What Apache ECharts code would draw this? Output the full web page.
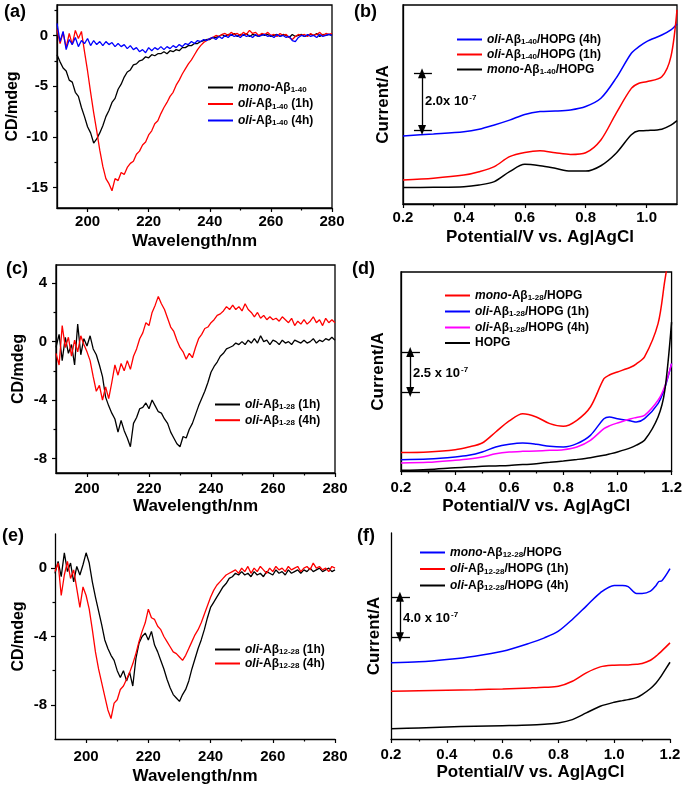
<!DOCTYPE html>
<html>
<head>
<meta charset="utf-8">
<script src="https://cdn.jsdelivr.net/npm/echarts@6/dist/echarts.min.js"></script>
<style>html,body{margin:0;padding:0;background:#fff}#c{width:685px;height:787px}</style>
</head>
<body>
<div id="c"></div>
<script>
// ---------- DATA ----------
const wavelength = [190,191,192,193,194,195,196,197,198,199,200,201,202,203,204,205,206,207,208,209,210,211,212,213,214,215,216,217,218,219,220,221,222,223,224,225,226,227,228,229,230,231,232,233,234,235,236,237,238,239,240,241,242,243,244,245,246,247,248,249,250,251,252,253,254,255,256,257,258,259,260,261,262,263,264,265,266,267,268,269,270,271,272,273,274,275,276,277,278,279,280];
const wlTickLabels = [200,220,240,260,280];
const wlMinorTicks = [210,230,250,270];

// (a) CD, Aβ1-40
const a_mono = [-1.9,-2.6,-3.2,-3.5,-4.4,-4.6,-5.6,-6.0,-7.1,-8.0,-9.0,-9.6,-10.6,-10.2,-9.6,-8.9,-8.0,-7.4,-6.6,-6.2,-5.3,-4.8,-4.1,-3.6,-3.4,-2.9,-2.8,-2.5,-2.4,-2.1,-2.2,-1.9,-2.0,-1.8,-1.8,-1.6,-1.8,-1.5,-1.6,-1.4,-1.5,-1.2,-1.2,-1.0,-1.0,-0.8,-0.8,-0.6,-0.5,-0.4,-0.4,-0.2,-0.2,-0.1,0.1,-0.1,0.1,0.0,0.2,-0.1,0.1,0.0,0.2,-0.1,0.1,0.0,-0.1,0.1,0.0,0.1,-0.1,0.0,0.1,-0.1,0.1,0.0,-0.2,0.1,-0.1,0.0,0.1,-0.1,0.0,0.1,0.0,0.2,-0.1,0.1,0.0,0.1,0.0];
const a_oli1h = [0.6,-0.8,0.3,-1.2,0.2,-0.9,0.5,-0.3,0.4,-1.6,-3.5,-5.6,-7.6,-9.4,-11.3,-12.9,-14.1,-14.6,-15.3,-14.1,-14.3,-13.5,-13.7,-13.0,-12.6,-12.4,-11.7,-11.4,-10.8,-10.5,-9.8,-9.4,-8.7,-8.4,-7.7,-7.1,-6.6,-6.0,-5.6,-4.9,-4.4,-3.8,-3.3,-2.8,-2.4,-1.9,-1.4,-1.0,-0.7,-0.5,-0.3,-0.2,0.0,-0.1,0.1,0.2,0.0,0.3,0.1,0.2,0.0,0.3,0.1,0.5,0.2,0.3,0.0,0.2,0.1,0.3,0.0,0.1,-0.1,0.2,0.0,0.1,-0.2,-0.4,-0.1,0.1,0.0,0.1,-0.1,0.2,0.0,0.1,0.3,0.0,0.2,0.1,0.2];
const a_oli4h = [1.2,-0.6,0.4,-1.4,-0.4,-0.9,-0.2,-1.1,-0.5,-0.8,-0.3,-1.0,-0.5,-0.9,-0.6,-1.0,-0.6,-0.9,-0.7,-1.1,-0.8,-1.1,-0.9,-1.3,-1.0,-1.4,-1.2,-1.6,-1.4,-1.7,-1.2,-1.5,-1.2,-1.4,-1.1,-1.4,-1.1,-1.3,-1.0,-1.2,-0.9,-1.1,-0.8,-0.9,-0.6,-0.8,-0.5,-0.6,-0.4,-0.5,-0.3,-0.2,-0.4,-0.1,-0.3,0.0,-0.2,0.1,-0.1,0.0,-0.2,0.1,-0.1,0.0,-0.2,0.1,-0.1,0.0,0.1,-0.1,0.0,-0.2,0.1,-0.1,0.0,-0.2,-0.1,-0.5,-0.6,-0.2,0.0,-0.1,0.1,-0.1,0.0,-0.2,0.1,-0.1,0.0,0.1,0.0];

// (c) CD, Aβ1-28
const c_oli1h = [-0.4,0.5,-1.3,0.3,-0.8,-0.2,-1.6,1.2,-0.9,0.2,-0.3,0.4,-0.5,-0.9,-1.6,-2.4,-3.8,-4.4,-4.9,-5.3,-6.2,-5.4,-6.1,-6.6,-7.2,-5.6,-5.2,-4.6,-4.5,-4.2,-4.6,-4.0,-4.4,-4.8,-4.9,-5.3,-5.6,-6.2,-6.6,-7.0,-7.2,-6.5,-6.6,-6.0,-5.6,-5.0,-4.4,-3.9,-3.4,-2.8,-2.1,-1.7,-1.4,-1.0,-0.8,-0.5,-0.4,-0.3,-0.1,-0.2,0.0,-0.2,0.1,-0.1,0.2,-0.1,0.4,0.0,0.1,-0.2,0.1,0.0,-0.2,0.1,-0.1,0.0,-0.2,0.1,0.0,-0.1,0.1,-0.1,0.0,0.2,-0.1,0.1,0.0,0.2,0.1,0.3,0.1];
const c_oli4h = [-0.8,-1.6,1.1,-0.4,0.3,-1.0,0.1,-0.7,0.4,-0.2,-0.7,-1.3,-2.4,-3.4,-3.0,-4.0,-3.1,-3.9,-2.8,-1.6,-2.3,-1.5,-2.0,-1.3,-1.9,-1.0,-0.5,0.2,0.6,1.3,1.1,2.0,2.5,3.1,2.6,2.2,1.6,1.0,0.7,0.1,-0.4,-0.7,-1.2,-0.8,-1.1,-0.4,0.2,0.5,0.9,1.0,1.3,1.5,1.8,1.9,2.1,2.4,2.2,2.5,2.2,2.4,2.1,2.6,2.2,2.0,1.7,2.0,1.6,1.8,1.5,1.7,1.5,1.6,1.4,1.7,1.5,1.3,1.6,1.1,1.4,1.2,1.5,1.2,1.4,1.7,1.3,1.5,1.1,1.6,1.3,1.5,1.3];

// (e) CD, Aβ12-28
const e_oli1h = [-0.3,0.4,-0.5,0.9,-0.2,0.3,-0.8,0.1,-0.4,0.2,0.9,0.3,-0.8,-1.7,-2.5,-3.3,-4.2,-4.7,-5.1,-5.4,-6.0,-6.4,-6.0,-6.6,-6.1,-6.9,-5.3,-4.4,-4.0,-3.8,-4.2,-3.7,-4.5,-4.9,-5.4,-5.9,-6.5,-7.0,-7.4,-7.6,-7.8,-7.4,-7.1,-6.6,-5.9,-5.3,-4.7,-4.2,-3.6,-2.9,-2.3,-2.0,-1.7,-1.4,-1.1,-0.9,-0.6,-0.5,-0.3,-0.4,-0.2,-0.4,-0.3,-0.5,-0.2,-0.4,-0.3,-0.5,-0.2,-0.3,-0.4,-0.1,-0.3,-0.2,-0.4,-0.1,-0.3,-0.2,-0.1,-0.3,-0.1,-0.2,0.0,-0.2,-0.1,0.0,-0.2,-0.1,0.0,-0.2,-0.1];
const e_oli4h = [-0.2,0.3,-1.6,-0.4,0.4,-0.6,-0.1,-1.2,-2.3,-1.1,-1.6,-2.4,-3.6,-4.9,-5.9,-6.7,-7.5,-8.3,-8.8,-7.9,-7.7,-7.1,-6.9,-6.5,-6.1,-5.6,-5.0,-4.3,-3.7,-3.2,-2.4,-2.9,-3.0,-3.4,-3.6,-4.0,-4.3,-4.6,-4.9,-5.0,-5.2,-5.4,-5.1,-4.7,-4.3,-3.9,-3.6,-3.2,-2.7,-2.2,-1.7,-1.3,-1.0,-0.8,-0.6,-0.4,-0.3,-0.2,-0.1,-0.3,0.0,-0.2,0.1,-0.3,0.0,-0.2,0.1,-0.1,-0.3,0.0,-0.2,0.1,-0.1,0.0,-0.2,0.1,-0.1,0.0,0.1,-0.2,0.0,0.1,-0.1,0.3,0.0,0.1,-0.1,0.0,-0.2,0.1,0.0];

// (b) LSV, Aβ1-40 (current in units of 1e-7 A, arbitrary offset)
const b_potential = [0.2,0.3,0.4,0.45,0.5,0.55,0.6,0.65,0.7,0.75,0.8,0.85,0.9,0.95,0.975,1.0,1.05,1.08,1.1];
const b_oli4h = [2.40,2.47,2.55,2.64,2.79,2.96,3.16,3.26,3.28,3.32,3.44,3.73,4.44,5.32,5.55,5.73,5.96,6.14,6.35];
const b_oli1h = [0.85,0.91,1.02,1.14,1.32,1.67,1.82,1.88,1.81,1.75,1.81,2.26,3.20,4.08,4.26,4.31,4.49,5.20,6.85];
const b_mono  = [0.58,0.59,0.61,0.67,0.79,1.14,1.40,1.35,1.26,1.16,1.16,1.35,1.79,2.44,2.58,2.59,2.64,2.78,2.94];

// (d) LSV, Aβ1-28
const d_potential = [0.2,0.3,0.4,0.45,0.5,0.55,0.6,0.65,0.7,0.75,0.8,0.85,0.9,0.95,0.97,1.0,1.05,1.07,1.1,1.15,1.175,1.2];
const d_mono  = [1.15,1.19,1.33,1.50,1.75,2.44,3.13,3.58,3.38,2.96,2.79,3.17,4.00,5.77,6.00,6.19,6.50,6.70,7.13,9.21,11.9,14.5];
const d_oli1h = [0.71,0.75,0.875,0.98,1.19,1.50,1.67,1.75,1.67,1.54,1.50,1.71,2.23,3.27,3.38,3.27,3.13,3.06,3.27,4.21,5.20,6.71];
const d_oli4h = [0.50,0.54,0.67,0.75,0.875,1.08,1.19,1.23,1.25,1.29,1.33,1.50,1.92,2.65,2.82,3.00,3.27,3.35,3.48,4.42,5.30,6.71];
const d_hopg  = [0.04,0.10,0.21,0.25,0.29,0.32,0.35,0.40,0.46,0.54,0.625,0.72,0.83,0.98,1.06,1.19,1.46,1.62,1.92,3.38,5.04,9.31];

// (f) LSV, Aβ12-28
const f_potential = [0.2,0.3,0.4,0.5,0.6,0.7,0.75,0.8,0.85,0.9,0.95,1.0,1.03,1.05,1.08,1.1,1.13,1.15,1.16,1.17,1.2];
const f_mono  = [7.54,7.64,7.87,8.20,8.69,9.52,10.02,10.68,11.84,13.16,14.48,15.21,15.21,15.08,14.41,14.41,14.64,15.20,15.60,15.65,16.86];
const f_oli1h = [4.73,4.78,4.83,4.88,4.96,5.06,5.12,5.22,5.72,6.55,7.14,7.31,7.33,7.34,7.40,7.47,7.80,8.20,8.45,8.70,9.52];
const f_oli4h = [1.02,1.10,1.19,1.26,1.32,1.39,1.47,1.59,1.92,2.58,3.24,3.64,3.80,3.90,4.10,4.40,5.00,5.55,5.90,6.30,7.60];

const potTickLabels_b = [0.2,0.4,0.6,0.8,1.0];
const potMinor_b = [0.3,0.5,0.7,0.9];
const potTickLabels = [0.2,0.4,0.6,0.8,1.0,1.2];
const potMinor = [0.3,0.5,0.7,0.9,1.1];

// ---------- CHART ----------
const FONT = "'Liberation Sans', Arial, Helvetica, sans-serif";
const pairs = (xs, ys) => xs.map((x, i) => [x, ys[i]]);

const panels = [
  { label:'(a)', lx:4, ly:3, kind:'cd', box:true,
    grid:{left:57, top:5, width:275, height:203}, ymin:-17, ymax:3,
    yMajor:[-15,-10,-5,0], yMinor:[-12.5,-7.5,-2.5,2.5],
    yGap:36, xGap:25, xMargin:6, yMargin:9,
    series:[['mono-Aβ1-40', a_mono, '#000000'], ['oli-Aβ1-40 (1h)', a_oli1h, '#ff0000'], ['oli-Aβ1-40 (4h)', a_oli4h, '#0000ff']],
    legend:{left:208, top:81, gap:3.5} },
  { label:'(b)', lx:354, ly:3, kind:'cv', box:true,
    grid:{left:403, top:5, width:274, height:199}, ymin:0, ymax:7.02, xmax:1.1,
    xMajor:potTickLabels_b, xMinor:potMinor_b, x:b_potential,
    yGap:11, xGap:25, xMargin:6,
    series:[['oli-Aβ1-40/HOPG (4h)', b_oli4h, '#0000ff'], ['oli-Aβ1-40/HOPG (1h)', b_oli1h, '#ff0000'], ['mono-Aβ1-40/HOPG', b_mono, '#000000']],
    legend:{left:457, top:33, gap:2},
    scale:{x:0.2625, y1:2.61, y2:4.61, c1:0.236, c2:0.295, text:'2.0x 10', tx:425, ty:103} },
  { label:'(c)', lx:6, ly:260, kind:'cd', box:true,
    grid:{left:56, top:265, width:279, height:208}, ymin:-9, ymax:5.25,
    yMajor:[-8,-4,0,4], yMinor:[-6,-2,2],
    yGap:29, xGap:25, xMargin:8, yMargin:9,
    series:[['oli-Aβ1-28 (1h)', c_oli1h, '#000000'], ['oli-Aβ1-28 (4h)', c_oli4h, '#ff0000']],
    legend:{left:215, top:398, gap:2.7} },
  { label:'(d)', lx:352, ly:260, kind:'cv', box:true,
    grid:{left:401, top:272, width:274, height:199}, ymin:0, ymax:12.44, xmax:1.2,
    xMajor:potTickLabels, xMinor:potMinor, x:d_potential,
    yGap:14, xGap:27, xMargin:9,
    series:[['mono-Aβ1-28/HOPG', d_mono, '#ff0000'], ['oli-Aβ1-28/HOPG (1h)', d_oli1h, '#0000ff'], ['oli-Aβ1-28/HOPG (4h)', d_oli4h, '#ff00ff'], ['HOPG', d_hopg, '#000000']],
    legend:{left:445, top:289, gap:3},
    scale:{x:0.234, y1:4.94, y2:7.44, c1:0.2036, c2:0.27, text:'2.5 x 10', tx:413, ty:375} },
  { label:'(e)', lx:2, ly:527, kind:'cd', box:false,
    grid:{left:55, top:534, width:280, height:205}, ymin:-10, ymax:2,
    yMajor:[-8,-4,0], yMinor:[-6,-2],
    yGap:28, xGap:29, xMargin:10, yMargin:8,
    series:[['oli-Aβ12-28 (1h)', e_oli1h, '#000000'], ['oli-Aβ12-28 (4h)', e_oli4h, '#ff0000']],
    legend:{left:215, top:643, gap:1} },
  { label:'(f)', lx:357, ly:527, kind:'cv', box:false,
    grid:{left:391, top:533, width:279, height:206}, ymin:0, ymax:20.4, xmax:1.2,
    xMajor:potTickLabels, xMinor:potMinor, x:f_potential,
    yGap:8, xGap:25, xMargin:8,
    series:[['mono-Aβ12-28/HOPG', f_mono, '#0000ff'], ['oli-Aβ12-28/HOPG (1h)', f_oli1h, '#ff0000'], ['oli-Aβ12-28/HOPG (4h)', f_oli4h, '#000000']],
    legend:{left:420, top:546, gap:3.5},
    scale:{x:0.232, y1:10.08, y2:14.08, c1:0.2, c2:0.268, text:'4.0 x 10', tx:403, ty:620} }
];

function richName(n) {
  const m = n.match(/^(mono|oli)-Aβ(\d+-\d+)(.*)$/);
  if (!m) return '{n|' + n + '}';
  return '{i|' + m[1] + '}{n|-Aβ}{s|' + m[2] + '}' + (m[3] ? '{n|' + m[3] + '}' : '');
}
const legendRich = {
  i: {fontFamily:FONT, fontWeight:'bold', fontStyle:'italic', fontSize:12, lineHeight:14, color:'#000'},
  n: {fontFamily:FONT, fontWeight:'bold', fontSize:12, lineHeight:14, color:'#000'},
  s: {fontFamily:FONT, fontWeight:'bold', fontSize:8, lineHeight:14, color:'#000', padding:[5,0,0,0]}
};

const axisLineStyle = {color:'#000', width:1.3};
const grids = [], xAxes = [], yAxes = [], series = [], legends = [], graphics = [];

panels.forEach((p, gi) => {
  grids.push(Object.assign({show:p.box, borderColor:'#000', borderWidth:1.3, backgroundColor:'transparent', containLabel:false}, p.grid));
  const isCD = p.kind === 'cd';
  const xmin = isCD ? 190 : 0.2, xmax = isCD ? 280 : p.xmax;
  const xMajor = isCD ? wlTickLabels : p.xMajor;
  const xMinor = isCD ? wlMinorTicks : p.xMinor;
  const xi = xAxes.length;
  xAxes.push({
    gridIndex:gi, type:'value', min:xmin, max:xmax, position:'bottom',
    axisLine:{show:true, onZero:false, lineStyle:axisLineStyle},
    axisTick:{show:true, inside:false, length:4, customValues:xMajor, lineStyle:{color:'#000', width:1.2}},
    axisLabel:{show:true, customValues:xMajor, margin:p.xMargin, color:'#000', fontFamily:FONT, fontWeight:'bold', fontSize:15,
      formatter: v => isCD ? String(v) : Number(v).toFixed(1)},
    splitLine:{show:false},
    name: isCD ? 'Wavelength/nm' : 'Potential/V vs. Ag|AgCl',
    nameLocation:'middle', nameGap:p.xGap,
    nameTextStyle:{color:'#000', fontFamily:FONT, fontWeight:'bold', fontSize:17}
  });
  xAxes.push({
    gridIndex:gi, type:'value', min:xmin, max:xmax, position:'bottom',
    axisLine:{show:false, onZero:false},
    axisTick:{show:true, inside:false, length:2.5, customValues:xMinor, lineStyle:{color:'#000', width:1.2}},
    axisLabel:{show:false}, splitLine:{show:false}
  });
  const yi = yAxes.length;
  if (isCD) {
    yAxes.push({
      gridIndex:gi, type:'value', min:p.ymin, max:p.ymax, position:'left',
      axisLine:{show:true, onZero:false, lineStyle:axisLineStyle},
      axisTick:{show:true, inside:false, length:4, customValues:p.yMajor, lineStyle:{color:'#000', width:1.2}},
      axisLabel:{show:true, customValues:p.yMajor, margin:p.yMargin, color:'#000', fontFamily:FONT, fontWeight:'bold', fontSize:15},
      splitLine:{show:false},
      name:'CD/mdeg', nameLocation:'middle', nameGap:p.yGap,
      nameTextStyle:{color:'#000', fontFamily:FONT, fontWeight:'bold', fontSize:16}
    });
    yAxes.push({
      gridIndex:gi, type:'value', min:p.ymin, max:p.ymax, position:'left',
      axisLine:{show:false, onZero:false},
      axisTick:{show:true, inside:false, length:2.5, customValues:p.yMinor, lineStyle:{color:'#000', width:1.2}},
      axisLabel:{show:false}, splitLine:{show:false}
    });
  } else {
    yAxes.push({
      gridIndex:gi, type:'value', min:p.ymin, max:p.ymax, position:'left',
      axisLine:{show:true, onZero:false, lineStyle:axisLineStyle},
      axisTick:{show:false}, axisLabel:{show:false}, splitLine:{show:false},
      name:'Current/A', nameLocation:'middle', nameGap:p.yGap,
      nameTextStyle:{color:'#000', fontFamily:FONT, fontWeight:'bold', fontSize:17}
    });
  }
  const names = [];
  p.series.forEach((s, si) => {
    names.push(s[0]);
    const ser = {
      name:s[0], type:'line', xAxisIndex:xi, yAxisIndex:yi,
      data: pairs(isCD ? wavelength : p.x, s[1]),
      symbol:'none', showSymbol:false, smooth: isCD ? false : 0.3,
      clip:true, color:s[2],
      lineStyle:{color:s[2], width: isCD ? 1.3 : 1.5},
      z: 3, animation:false
    };
    if (si === 0 && p.scale) {
      const sc = p.scale;
      ser.markLine = {
        silent:true, animation:false, symbol:['triangle','triangle'], symbolSize:[8,10],
        lineStyle:{color:'#000', width:1.3, type:'solid'}, label:{show:false},
        emphasis:{disabled:true},
        data:[
          [{coord:[sc.x, sc.y2]}, {coord:[sc.x, sc.y1]}],
          [{coord:[sc.c1, sc.y2], symbol:'none'}, {coord:[sc.c2, sc.y2], symbol:'none'}],
          [{coord:[sc.c1, sc.y1], symbol:'none'}, {coord:[sc.c2, sc.y1], symbol:'none'}]
        ]
      };
      graphics.push({type:'text', left:sc.tx, top:sc.ty - 9, z:10,
        style:{text:'{n|' + sc.text + '}{p|-7}', rich:{
          n:{fontFamily:FONT, fontWeight:'bold', fontSize:13, lineHeight:16, fill:'#000'},
          p:{fontFamily:FONT, fontWeight:'bold', fontSize:8, lineHeight:16, fill:'#000', padding:[0,0,7,1]}
        }}});
    }
    series.push(ser);
  });
  legends.push({
    data:names, orient:'vertical', left:p.legend.left, top:p.legend.top, padding:0,
    itemWidth:25, itemHeight:2, itemGap:p.legend.gap, icon:'rect', selectedMode:false,
    textStyle:{rich:legendRich, fontFamily:FONT, fontWeight:'bold', fontSize:12, color:'#000'},
    formatter: richName
  });
  graphics.push({type:'text', left:p.lx, top:p.ly, z:10,
    style:{text:p.label, fontFamily:FONT, fontWeight:'bold', fontSize:18, fill:'#000'}});
});

const chart = echarts.init(document.getElementById('c'), null, {renderer:'canvas'});
chart.setOption({
  animation:false,
  backgroundColor:'#ffffff',
  textStyle:{fontFamily:FONT},
  grid:grids, xAxis:xAxes, yAxis:yAxes, series:series, legend:legends,
  graphic:graphics, tooltip:{show:false}
});
</script>
</body>
</html>
